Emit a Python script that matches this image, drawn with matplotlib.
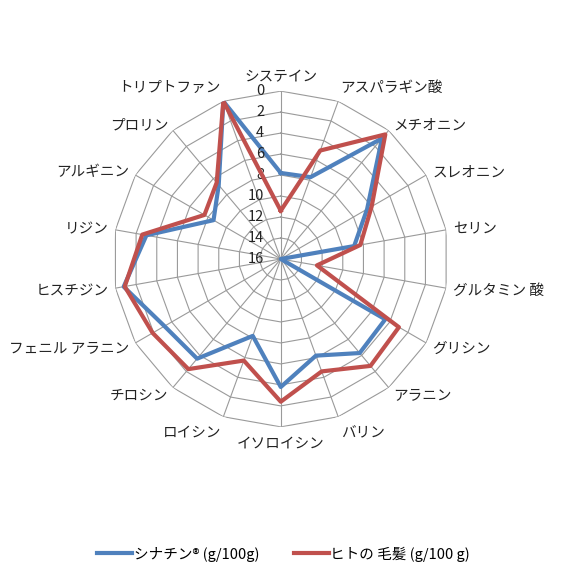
import numpy as np
import matplotlib
matplotlib.use("Agg")
import matplotlib.pyplot as plt

plt.rcParams['font.family'] = ['Noto Sans CJK JP', 'DejaVu Sans']

categories = ['システイン', 'アスパラギン酸', 'メチオニン', 'スレオニン', 'セリン',
              'グルタミン 酸', 'グリシン', 'アラニン', 'バリン', 'イソロイシン',
              'ロイシン', 'チロシン', 'フェニル アラニン', 'ヒスチジン', 'リジン',
              'アルギニン', 'プロリン', 'トリプトファン']
synatine = [7.8, 7.7, 1.0, 6.5, 8.9, 16, 4.5, 4.3, 6.2, 3.8,
            8.2, 3.6, 3.2, 0.8, 3.0, 8.6, 6.8, 0]
human_hair = [11.4, 5.0, 0.5, 6.0, 8.3, 12.5, 3.0, 2.7, 4.6, 2.4,
              5.7, 2.3, 1.9, 0.9, 2.6, 7.6, 6.5, 0]
ticks = [0, 2, 4, 6, 8, 10, 12, 14, 16]
labels = ['シナチン® (g/100g)', 'ヒトの 毛髪 (g/100 g)']

blue = '#4F81BD'
red = '#C0504D'
gridc = '#9A9A9A'

n = len(categories)
angles = np.arange(n) * 2 * np.pi / n
closed = np.append(angles, angles[0])

fig = plt.figure(figsize=(5.73, 5.73), dpi=100)
ax = fig.add_axes([0.197, 0.255, 0.586, 0.586], projection='polar')
ax.set_theta_zero_location('N')
ax.set_theta_direction(-1)
ax.set_ylim(16, 0)
ax.grid(False)
ax.spines['polar'].set_visible(False)
ax.set_xticks([])
ax.set_yticks([])

# polygon rings and spokes
for t in ticks:
    ax.plot(closed, [t] * (n + 1), color=gridc, lw=0.8, zorder=1)
for a in angles:
    ax.plot([a, a], [16, 0], color=gridc, lw=0.8, zorder=1)

ax.plot(closed, synatine + synatine[:1], color=blue, lw=3, label=labels[0], zorder=3)
ax.plot(closed, human_hair + human_hair[:1], color=red, lw=3, label=labels[1], zorder=4)

# radial tick labels along top spoke
for t in ticks:
    ax.annotate(str(t), xy=(0, t), xytext=(-12, 0), textcoords='offset points',
                ha='right', va='center', fontsize=10.5, color='#222222')

# category labels
for a, c in zip(angles, categories):
    s, co = np.sin(a), np.cos(a)
    if abs(s) < 0.1:
        ha = 'center'
    elif s > 0:
        ha = 'left'
    else:
        ha = 'right'
    if co > 0.9:
        va = 'bottom'
    elif co < -0.9:
        va = 'top'
    else:
        va = 'center'
    ax.annotate(c, xy=(a, 0), xytext=(5 * s, 6 * co - 1), textcoords='offset points',
                ha=ha, va=va, fontsize=10.5, color='#222222')

fig.legend(loc='lower center', bbox_to_anchor=(0.495, -0.003), ncol=2, frameon=False,
           fontsize=10.5, handlelength=2.4, handletextpad=0.1, columnspacing=2.4)

fig.savefig('out.png', dpi=100, facecolor='white')
